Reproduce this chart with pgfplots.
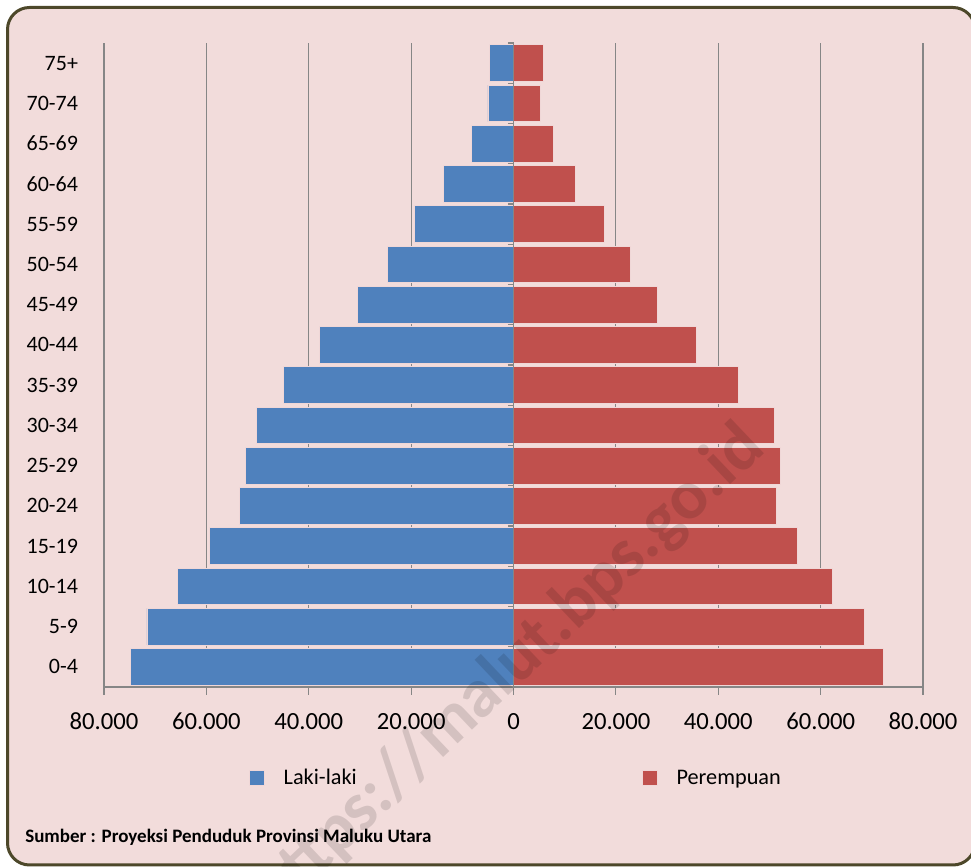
\documentclass[border=0pt]{standalone}
\usepackage{pgfplots}
\pgfplotsset{compat=1.18}
\usepackage{fontspec}
\setmainfont{Carlito}
\definecolor{bgpink}{RGB}{242,220,219}
\definecolor{frame}{RGB}{77,72,42}
\definecolor{male}{RGB}{79,129,189}
\definecolor{female}{RGB}{192,80,77}
\definecolor{gridgray}{RGB}{134,134,134}
\definecolor{barline}{RGB}{240,215,215}
\begin{document}
\begin{tikzpicture}
\useasboundingbox (0,0) rectangle (728.25pt,650.25pt);
\clip (0,0) rectangle (728.25pt,650.25pt);
\filldraw[fill=bgpink, draw=frame, line width=2.25pt, rounded corners=16.5pt]
  (5.625pt,644.625pt) rectangle (731.25pt,1.5pt);
\begin{axis}[
  at={(78pt,135pt)}, anchor=south west,
  scale only axis, width=614.25pt, height=483pt,
  xmin=-80000, xmax=80000, ymin=-0.5, ymax=15.5,
  axis x line*=bottom, axis y line*=left,
  axis line style={draw=gridgray, line width=0.8pt},
  scaled x ticks=false,
  xtick={-80000,-60000,-40000,-20000,0,20000,40000,60000,80000},
  xticklabels={80.000,60.000,40.000,20.000,0,20.000,40.000,60.000,80.000},
  ytick={0,...,15},
  yticklabels={0-4,5-9,10-14,15-19,20-24,25-29,30-34,35-39,40-44,45-49,50-54,55-59,60-64,65-69,70-74,75+},
  xmajorgrids, grid style={draw=gridgray, line width=0.8pt},
  tick align=outside, major tick length=6pt,
  xtick style={draw=gridgray, line width=0.8pt},
  ytick style={draw=none},
  xticklabel style={font=\fontsize{18.5}{20}\selectfont, yshift=-10pt},
  yticklabel style={font=\fontsize{16.5}{18}\selectfont, xshift=-10pt},
  xbar, bar width=0.91,
  legend columns=2,
  legend style={draw=none, fill=none, at={(0.177,-0.1413)}, anchor=west,
    inner sep=0pt, font=\fontsize{16.7}{18}\selectfont,
    /tikz/every odd column/.append style={column sep=12pt},
    /tikz/every even column/.append style={column sep=212pt}},
  legend image code/.code={\fill[#1] (0pt,-5.625pt) rectangle (11.25pt,5.625pt);},
  clip=false,
]
\addplot[fill=male, draw=barline, line width=0.6pt, bar shift=0pt] coordinates {
(-74900,0) (-71600,1) (-65600,2) (-59400,3) (-53600,4) (-52300,5) (-50300,6) (-45000,7)
(-37900,8) (-30500,9) (-24600,10) (-19400,11) (-13600,12) (-8300,13) (-5000,14) (-4700,15)};
\addlegendentry{Laki-laki}
\addplot[fill=female, draw=barline, line width=0.6pt, bar shift=0pt] coordinates {
(72200,0) (68600,1) (62300,2) (55500,3) (51400,4) (52200,5) (51000,6) (44000,7)
(35700,8) (28200,9) (22800,10) (17800,11) (12100,12) (7800,13) (5200,14) (5800,15)};
\addlegendentry{Perempuan}
\draw[gridgray, line width=0.8pt] (axis cs:0,-0.5) -- (axis cs:0,15.5);
\pgfplotsinvokeforeach{-0.5,0.5,1.5,2.5,3.5,4.5,5.5,6.5,7.5,8.5,9.5,10.5,11.5,12.5,13.5,14.5,15.5}{
  \draw[gridgray, line width=0.8pt] (axis cs:-1100,#1) -- (axis cs:0,#1);
}
\end{axis}
\node[anchor=base west, font=\bfseries\fontsize{14.25}{16}\selectfont, inner sep=0pt]
  at (18.75pt,18pt) {Sumber : Proyeksi Penduduk Provinsi Maluku Utara};
\node[rotate=43.5, font=\bfseries\fontsize{52}{54}\selectfont, text=black, opacity=0.12]
  at (381.75pt,147.75pt) {https://malut.bps.go.id};
\end{tikzpicture}
\end{document}
